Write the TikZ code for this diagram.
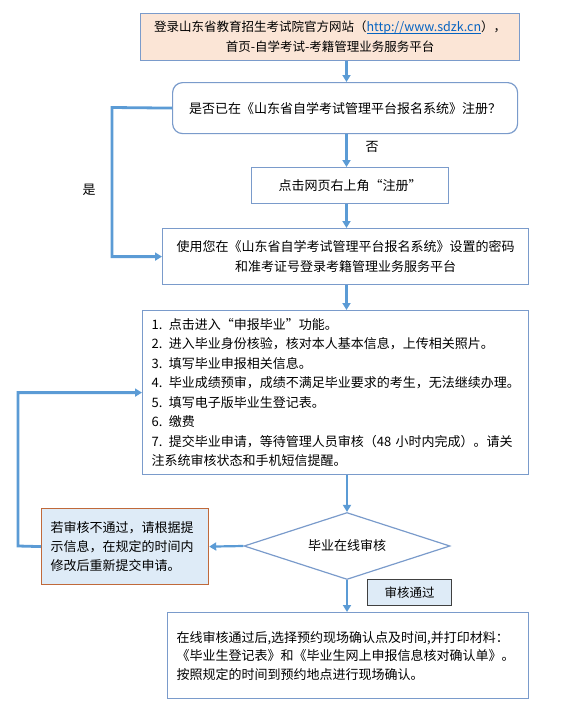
\documentclass[tikz,border=0pt]{standalone}
\usepackage{fontspec}
\setmainfont{Noto Sans CJK SC}
\usetikzlibrary{arrows.meta,shapes.geometric}
\definecolor{arrowblue}{HTML}{5B9BD5}
\definecolor{boxline}{HTML}{7A9BCB}
\definecolor{peach}{HTML}{FBE5D6}
\definecolor{lightblue}{HTML}{DEEBF7}
\definecolor{orangeline}{HTML}{C0693A}
\definecolor{darkline}{HTML}{404040}
\definecolor{urlblue}{HTML}{0563C1}
\begin{document}
\begin{tikzpicture}[x=1pt,y=-1pt,
  box/.style={draw=boxline, line width=1.2pt, inner sep=0pt, anchor=north west, align=center, font=\fontsize{13}{19.5}\selectfont, text=black},
  lbox/.style={box, align=left, inner xsep=9pt},
  arr/.style={draw=arrowblue, line width=2.2pt, -{Triangle[length=7pt,width=8pt]}},
  farr/.style={draw=arrowblue, line width=2.8pt, -{Triangle[length=7pt,width=8pt]}},
  lbl/.style={font=\fontsize{13}{15}\selectfont, inner sep=0pt}
]
\useasboundingbox (0,0) rectangle (582,712);
\coordinate (ax) at (346.5,0);

\node[box, fill=peach, minimum width=379pt, minimum height=47pt, font=\fontsize{12.5}{20}\selectfont] (b1) at (140,13)
  {登录山东省教育招生考试院官方网站（{\color{urlblue}\underbar{http://www.sdzk.cn}}），\\首页-自学考试-考籍管理业务服务平台};

\node[box, rounded corners=10pt, minimum width=345pt, minimum height=51pt] (b2) at (172,82)
  {是否已在《山东省自学考试管理平台报名系统》注册？};

\node[box, minimum width=197pt, minimum height=36pt] (b3) at (251,167)
  {点击网页右上角“注册”};

\node[box, minimum width=366pt, minimum height=56pt] (b4) at (162,228)
  {使用您在《山东省自学考试管理平台报名系统》设置的密码\\和准考证号登录考籍管理业务服务平台};

\node[lbox, text width=368pt, minimum height=164pt] (b5) at (142,310)
  {1. 点击进入“申报毕业”功能。\\
   2. 进入毕业身份核验，核对本人基本信息，上传相关照片。\\
   3. 填写毕业申报相关信息。\\
   4. 毕业成绩预审，成绩不满足毕业要求的考生，无法继续办理。\\
   5. 填写电子版毕业生登记表。\\
   6. 缴费\\
   7. 提交毕业申请，等待管理人员审核（48 小时内完成）。请关\\
   注系统审核状态和手机短信提醒。};

\node[diamond, draw=boxline, line width=1.2pt, minimum width=206pt, minimum height=67pt, inner sep=0pt, aspect=3.07, font=\fontsize{13}{15}\selectfont] (dia) at (347,546)
  {毕业在线审核};

\node[lbox, fill=lightblue, draw=orangeline, text width=149pt, minimum height=76pt, font=\fontsize{13}{19}\selectfont] (lb) at (41,508)
  {若审核不通过，请根据提\\示信息，在规定的时间内\\修改后重新提交申请。};

\node[box, fill=lightblue, draw=darkline, minimum width=84pt, minimum height=26pt, font=\fontsize{12.5}{15}\selectfont] (pass) at (367,579)
  {审核通过};

\node[lbox, text width=343pt, minimum height=86pt, font=\fontsize{13}{18.5}\selectfont] (fin) at (167,612)
  {在线审核通过后,选择预约现场确认点及时间,并打印材料：\\
   《毕业生登记表》和《毕业生网上申报信息核对确认单》。\\
   按照规定的时间到预约地点进行现场确认。};

\node[lbl] (no) at (372,147) {否};
\node[lbl] (yes) at (89,190) {是};

\coordinate (yc1) at (112,107.5);
\coordinate (fc1) at (18,546);

\draw[arr] (b1.south -| ax) -- (b2.north -| ax);
\draw[arr] (b2.south -| ax) -- (b3.north -| ax);
\draw[arr] (b3.south -| ax) -- (b4.north -| ax);
\draw[arr] (b4.south -| ax) -- (b5.north -| ax);
\draw[arr] (b5.south -| dia.north) -- (dia.north);
\draw[arr] (dia.south) -- (fin.north -| dia.south);
\draw[arr] (dia.west) -- (lb.east);
\draw[farr] (b2.west) -- (yc1) |- (b4.west);
\draw[farr] (lb.west) -- (fc1) |- (b5.west);
\end{tikzpicture}
\end{document}
